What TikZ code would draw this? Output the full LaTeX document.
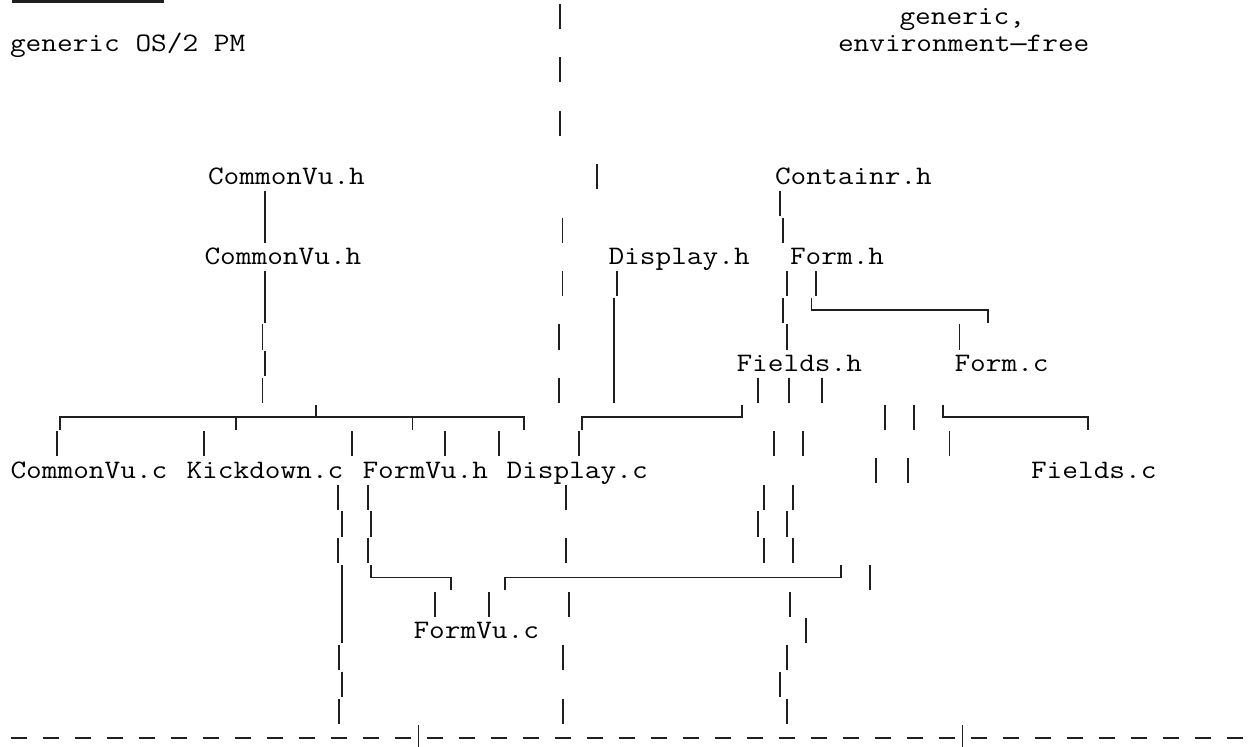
\documentclass[tikz,border=0pt]{standalone}
\usepackage{fontspec}
\newfontfamily\termfont{Latin Modern Mono}[FakeStretch=1.143]
\newfontfamily\dashfont{Liberation Mono}
\begin{document}
\begin{tikzpicture}[x=1pt,y=-1pt,
  declare function={rt(\r)=3+26.72*\r+0.8; rb(\r)=3+26.72*(\r+1)-0.8;
                    rc(\r)=3+26.72*(\r+0.5); bl(\r)=3+26.72*(\r+0.5)+8;},
  asciitext/.style={font=\termfont\fontsize{26.66pt}{26.72pt}\selectfont,
                    inner sep=0pt, outer sep=0pt, anchor=base west, text=black},
  rule/.style={line width=1.9pt, draw=black!88, line cap=butt, line join=miter}]

% page
\fill[white] (0,0) rectangle (1248,747);
\useasboundingbox (0,0) rectangle (1248,747);

% one "|" per text row, or a run of rows at the same column
\newcommand\vrun[3]{\draw[rule] (#1,{rt(#2)}) -- (#1,{rb(#3)});}
\newcommand\vbar[2]{\vrun{#1}{#2}{#2}}

% ---------------- headings ----------------
\draw[line width=2.4pt, black!88] (12,1.3) -- (164,1.3);
\node[asciitext] (gen)  at (10,{bl(1)})    {generic OS/2 PM};
\node[asciitext] (genr) at (899.5,{bl(0)}) {generic,};
\node[asciitext] (envf) at (838,{bl(1)})   {environment{\dashfont —}free};

% ---------------- file names ----------------
\node[asciitext] (cvh1)    at (208,{bl(6)})    {CommonVu.h};
\node[asciitext] (cont)    at (775,{bl(6)})    {Containr.h};
\node[asciitext] (cvh2)    at (204.5,{bl(9)})  {CommonVu.h};
\node[asciitext] (disph)   at (608.5,{bl(9)})  {Display.h};
\node[asciitext] (formh)   at (790,{bl(9)})    {Form.h};
\node[asciitext] (fieldsh) at (736.5,{bl(13)}) {Fields.h};
\node[asciitext] (formc)   at (954.5,{bl(13)}) {Form.c};
\node[asciitext] (cvc)     at (10.5,{bl(17)})  {CommonVu.c};
\node[asciitext] (kick)    at (186.5,{bl(17)}) {Kickdown.c};
\node[asciitext] (fvh)     at (362.5,{bl(17)}) {FormVu.h};
\node[asciitext] (dispc)   at (506.5,{bl(17)}) {Display.c};
\node[asciitext] (fieldsc) at (1031,{bl(17)})  {Fields.c};
\node[asciitext] (fvc)     at (413.5,{bl(23)}) {FormVu.c};

% ---------------- middle separator column ----------------
\vbar{559.6}{0} \vbar{559.6}{2} \vbar{559.6}{4}
\vbar{597.3}{6}
\vbar{562.5}{8} \vbar{562.5}{10}
\vbar{559.3}{12} \vbar{559.3}{14}
\vbar{579.3}{16}
\vbar{565.7}{18} \vbar{565.7}{20}
\vbar{569}{22}
\vbar{562.7}{24} \vbar{562.7}{26}

% ---------------- CommonVu.h down to the .c files ----------------
\vrun{265}{7}{8}
\vrun{265}{10}{11}
\vbar{262.5}{12} \vbar{265}{13} \vbar{262.5}{14}
\draw[rule] (60,{rb(15)}) |- (524.3,{rc(15)}) -- (524.3,{rb(15)});
\draw[rule] (235.7,{rc(15)}) -- (235.7,{rb(15)});
\draw[rule] (412.5,{rc(15)}) -- (412.5,{rb(15)});
\draw[rule] (316,{rt(15)}) -- (316,{rc(15)});
\vbar{57}{16} \vbar{204.3}{16} \vbar{351.8}{16} \vbar{444.6}{16} \vbar{499}{16}

% ---------------- Kickdown.c column ----------------
\vbar{337.7}{18} \vbar{341.7}{19} \vbar{337.7}{20}
\vrun{341.7}{21}{23}
\vbar{339.3}{24} \vbar{341.7}{25} \vbar{339.3}{26}

% ---------------- FormVu.h to FormVu.c ----------------
\vbar{367.7}{18} \vbar{371}{19} \vbar{367.7}{20}
\draw[rule] (371,{rt(21)}) |- (451,{rc(21)}) -- (451,{rb(21)});
\draw[rule] (505,{rb(21)}) |- (841,{rc(21)}) -- (841,{rt(21)});
\vbar{435}{22} \vbar{489}{22}

% ---------------- Display.h to Display.c ----------------
\vbar{617.3}{10}
\vrun{614}{11}{14}
\draw[rule] (581.7,{rb(15)}) |- (741.7,{rc(15)}) -- (741.7,{rt(15)});

% ---------------- Containr.h, Form.h, Fields.h ----------------
\vbar{780}{7} \vbar{783.3}{8}
\vbar{787.3}{10} \vbar{783.3}{11} \vbar{787.3}{12}
\vbar{815.7}{10}
\draw[rule] (811.5,{rt(11)}) |- (988,{rc(11)}) -- (988,{rb(11)});
\vbar{959.5}{12}
\vbar{758.3}{14} \vbar{789.3}{14} \vbar{821.7}{14}
\vbar{773.9}{16} \vbar{802.8}{16}
\vbar{764}{18} \vbar{793.3}{18}
\vbar{757.7}{19} \vbar{786.7}{19}
\vbar{764}{20} \vbar{793.3}{20}
\vbar{790}{22} \vbar{805.7}{23}
\vbar{786.7}{24} \vbar{780.3}{25} \vbar{786.7}{26}

% ---------------- Form.c to Fields.c ----------------
\vbar{885}{15} \vbar{914.3}{15}
\draw[rule] (943.3,{rt(15)}) |- (1087.7,{rc(15)}) -- (1087.7,{rb(15)});
\vbar{949.5}{16}
\vbar{876}{17} \vbar{908}{17}
\vbar{870}{21}

% ---------------- bottom boundary ----------------
\foreach \c in {0,2,...,76}
  \draw[rule] ({10.5+16*\c},{rc(27)}) -- ++(16,0);
\draw[rule] (418.5,{rt(27)}) -- (418.5,750);
\draw[rule] (962.5,{rt(27)}) -- (962.5,750);
\end{tikzpicture}
\end{document}
